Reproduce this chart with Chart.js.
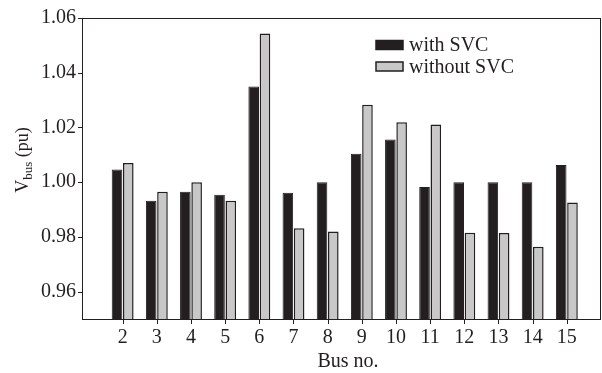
<!DOCTYPE html>
<html>
<head>
<meta charset="utf-8">
<script src="https://cdn.jsdelivr.net/npm/chart.js@4"></script>
<style>
  html, body { margin: 0; padding: 0; background: #fff; }
  #wrap { width: 602px; height: 373px; position: relative; }
</style>
</head>
<body>
<div id="wrap"><canvas id="busChart"></canvas></div>
<script>
const buses = [2, 3, 4, 5, 6, 7, 8, 9, 10, 11, 12, 13, 14, 15];
const withSvc = [1.0046, 0.9932, 0.9965, 0.9954, 1.0350, 0.9961, 1.0000, 1.0104, 1.0156, 0.9982, 1.0000, 1.0000, 1.0000, 1.0063];
const withoutSvc = [1.0070, 0.9965, 1.0000, 0.9932, 1.0543, 0.9832, 0.9820, 1.0283, 1.0219, 1.0211, 0.9815, 0.9814, 0.9764, 0.9926];
const yTicks = [0.96, 0.98, 1.00, 1.02, 1.04, 1.06];

const ink = '#231f20';
const serif = '"Liberation Serif", "DejaVu Serif", serif';

// frame, tick marks, legend and axis titles drawn by hand
const extras = {
    id: 'extras',
    afterDraw(chart) {
        const ctx = chart.ctx;
        const a = chart.chartArea;
        const xs = chart.scales.x, ys = chart.scales.y;
        ctx.save();
        ctx.strokeStyle = ink;
        ctx.lineWidth = 1;
        ctx.strokeRect(a.left + 0.5, a.top + 0.5, a.right - a.left - 1, a.bottom - a.top);

        ctx.beginPath();
        buses.forEach(b => {
            const px = Math.round(xs.getPixelForValue(b)) + 0.5;
            ctx.moveTo(px, a.bottom);
            ctx.lineTo(px, a.bottom + 5);
        });
        yTicks.forEach(v => {
            const py = Math.round(ys.getPixelForValue(v)) + 0.5;
            ctx.moveTo(a.left - 4, py);
            ctx.lineTo(a.left, py);
        });
        ctx.stroke();

        // legend
        ctx.font = '20px ' + serif;
        ctx.textBaseline = 'middle';
        chart.data.datasets.forEach((ds, i) => {
            const y = 45 + i * 21.5;
            ctx.fillStyle = ds.backgroundColor;
            ctx.fillRect(376, y - 4.5, 27, 9);
            ctx.lineWidth = 1.5;
            ctx.strokeStyle = ink;
            ctx.strokeRect(376, y - 4.5, 27, 9);
            ctx.fillStyle = ink;
            ctx.fillText(ds.label, 409, y + 1);
        });

        // x title
        ctx.textBaseline = 'alphabetic';
        ctx.textAlign = 'center';
        ctx.font = '20px ' + serif;
        ctx.fillText('Bus no.', 348, 367);

        // y title
        ctx.translate(21, 160);
        ctx.rotate(-Math.PI / 2);
        ctx.textAlign = 'left';
        const parts = [['V', '18px ', 0], ['bus', '13px ', 4], [' (pu)', '18px ', 0]];
        let w = 0;
        parts.forEach(p => { ctx.font = p[1] + serif; w += ctx.measureText(p[0]).width; });
        let x = -w / 2;
        parts.forEach(p => {
            ctx.font = p[1] + serif;
            ctx.fillText(p[0], x, 7 + p[2]);
            x += ctx.measureText(p[0]).width;
        });
        ctx.restore();
    }
};

const ctx = document.getElementById('busChart').getContext('2d');
new Chart(ctx, {
    type: 'bar',
    data: {
        datasets: [{
            label: 'with SVC',
            data: buses.map((b, i) => ({ x: b, y: withSvc[i] })),
            backgroundColor: ink,
            borderColor: ink,
            borderWidth: 1,
            categoryPercentage: 0.66,
            barPercentage: 0.94
        }, {
            label: 'without SVC',
            data: buses.map((b, i) => ({ x: b, y: withoutSvc[i] })),
            backgroundColor: '#c8c8c8',
            borderColor: ink,
            borderWidth: 1.5,
            categoryPercentage: 0.66,
            barPercentage: 0.94
        }]
    },
    options: {
        responsive: true,
        maintainAspectRatio: false,
        animation: false,
        layout: { padding: { top: 17, right: 1, left: 0, bottom: 0 } },
        plugins: {
            legend: { display: false },
            tooltip: { enabled: false }
        },
        scales: {
            x: {
                type: 'linear',
                min: 0.81,
                max: 16,
                offset: false,
                afterBuildTicks: s => { s.ticks = buses.map(v => ({ value: v })); },
                afterFit: s => { s.height = 54; },
                grid: { display: false, drawTicks: false },
                border: { display: false },
                ticks: {
                    color: ink,
                    font: { family: serif, size: 20 },
                    padding: 7,
                    maxRotation: 0,
                    autoSkip: false,
                    callback: v => String(v)
                }
            },
            y: {
                min: 0.95,
                max: 1.06,
                afterBuildTicks: s => { s.ticks = yTicks.map(v => ({ value: v })); },
                afterFit: s => { s.width = 82; },
                grid: { display: false, drawTicks: false },
                border: { display: false },
                ticks: {
                    color: ink,
                    font: { family: serif, size: 20 },
                    padding: 6,
                    callback: v => Number(v).toFixed(2)
                }
            }
        }
    },
    plugins: [extras]
});
</script>
</body>
</html>
